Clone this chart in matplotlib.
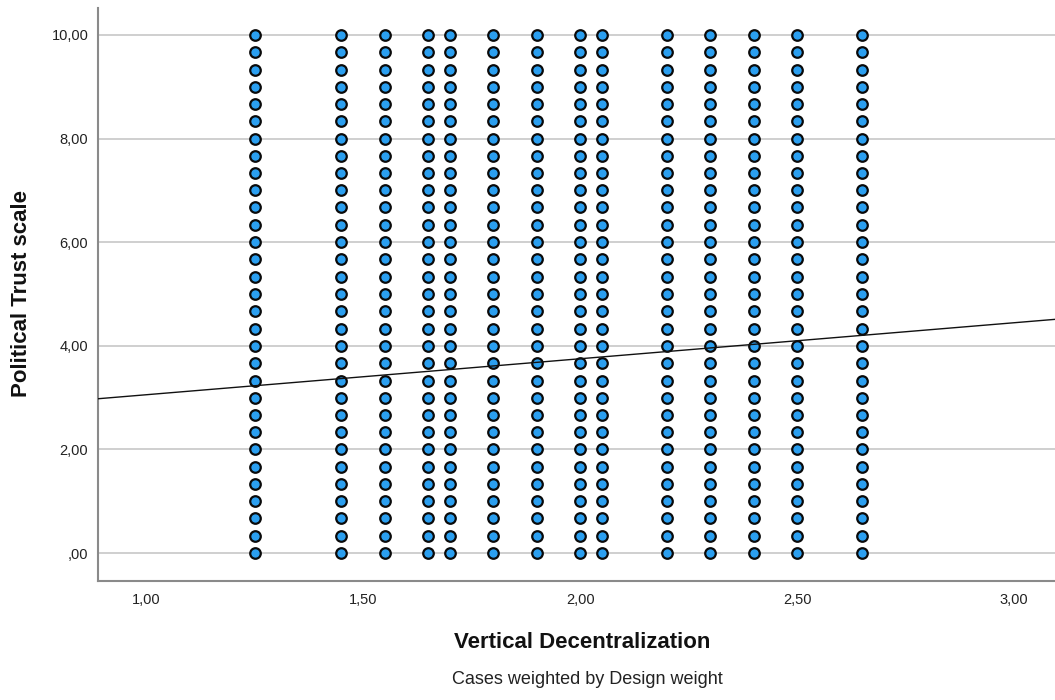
import numpy as np
import matplotlib
matplotlib.use("Agg")
import matplotlib.pyplot as plt
from matplotlib.ticker import FuncFormatter

# ── data ──────────────────────────────────────────────────────────────────────
decentralization = [1.25, 1.45, 1.55, 1.65, 1.70, 1.80, 1.90, 2.00, 2.05,
                    2.20, 2.30, 2.40, 2.50, 2.65]
trust_levels = [0.00, 0.33, 0.67, 1.00, 1.33, 1.67, 2.00, 2.33, 2.67, 3.00,
                3.33, 3.67, 4.00, 4.33, 4.67, 5.00, 5.33, 5.67, 6.00, 6.33,
                6.67, 7.00, 7.33, 7.67, 8.00, 8.33, 8.67, 9.00, 9.33, 9.67,
                10.00]
fit_intercept = 2.36
fit_slope = 0.695

x_ticks = [1.0, 1.5, 2.0, 2.5, 3.0]
y_ticks = [0, 2, 4, 6, 8, 10]

# ── plotting ──────────────────────────────────────────────────────────────────
plt.rcParams['font.family'] = ['Liberation Sans', 'DejaVu Sans']

fig = plt.figure(figsize=(10.55, 7.0), dpi=100)
ax = fig.add_axes([98 / 1055, 1 - 581 / 700, (1055 - 98) / 1055, (581 - 8) / 700])

xx, yy = np.meshgrid(decentralization, trust_levels)
ax.plot(xx.ravel(), yy.ravel(), linestyle='none', marker='o', markersize=7.6,
        markerfacecolor='#2b9ff0', markeredgecolor='#0a0a0a',
        markeredgewidth=1.6, zorder=3)

ax.axline((0, fit_intercept), slope=fit_slope, color='#111111', linewidth=1.0,
          zorder=4)

ax.set_xlim(0.889, 3.094)
ax.set_ylim(-0.54, 10.52)
ax.set_xticks(x_ticks)
ax.set_yticks(y_ticks)


def comma_fmt(v, pos):
    s = f"{v:.2f}".replace('.', ',')
    return s[1:] if s.startswith('0,') else s


ax.xaxis.set_major_formatter(FuncFormatter(comma_fmt))
ax.yaxis.set_major_formatter(FuncFormatter(comma_fmt))
ax.tick_params(axis='both', length=0, labelsize=10.5, colors='#222222')
ax.tick_params(axis='x', pad=9)
ax.tick_params(axis='y', pad=7)

ax.grid(axis='y', color='#cfcfcf', linewidth=1.4, zorder=1)
ax.set_axisbelow(True)

for side in ['top', 'right']:
    ax.spines[side].set_visible(False)
for side in ['left', 'bottom']:
    ax.spines[side].set_color('#8a8a8a')
    ax.spines[side].set_linewidth(1.5)

fig.text(582 / 1055, 1 - 642 / 700, "Vertical Decentralization", ha='center',
         va='center', fontsize=16, fontweight='bold', color='#111111')
fig.text(22 / 1055, 1 - 294 / 700, "Political Trust scale", ha='center',
         va='center', rotation=90, fontsize=16, fontweight='bold',
         color='#111111')
fig.text(587 / 1055, 1 - 680 / 700, "Cases weighted by Design weight",
         ha='center', va='center', fontsize=13, color='#222222')

fig.savefig("out.png", dpi=100)
